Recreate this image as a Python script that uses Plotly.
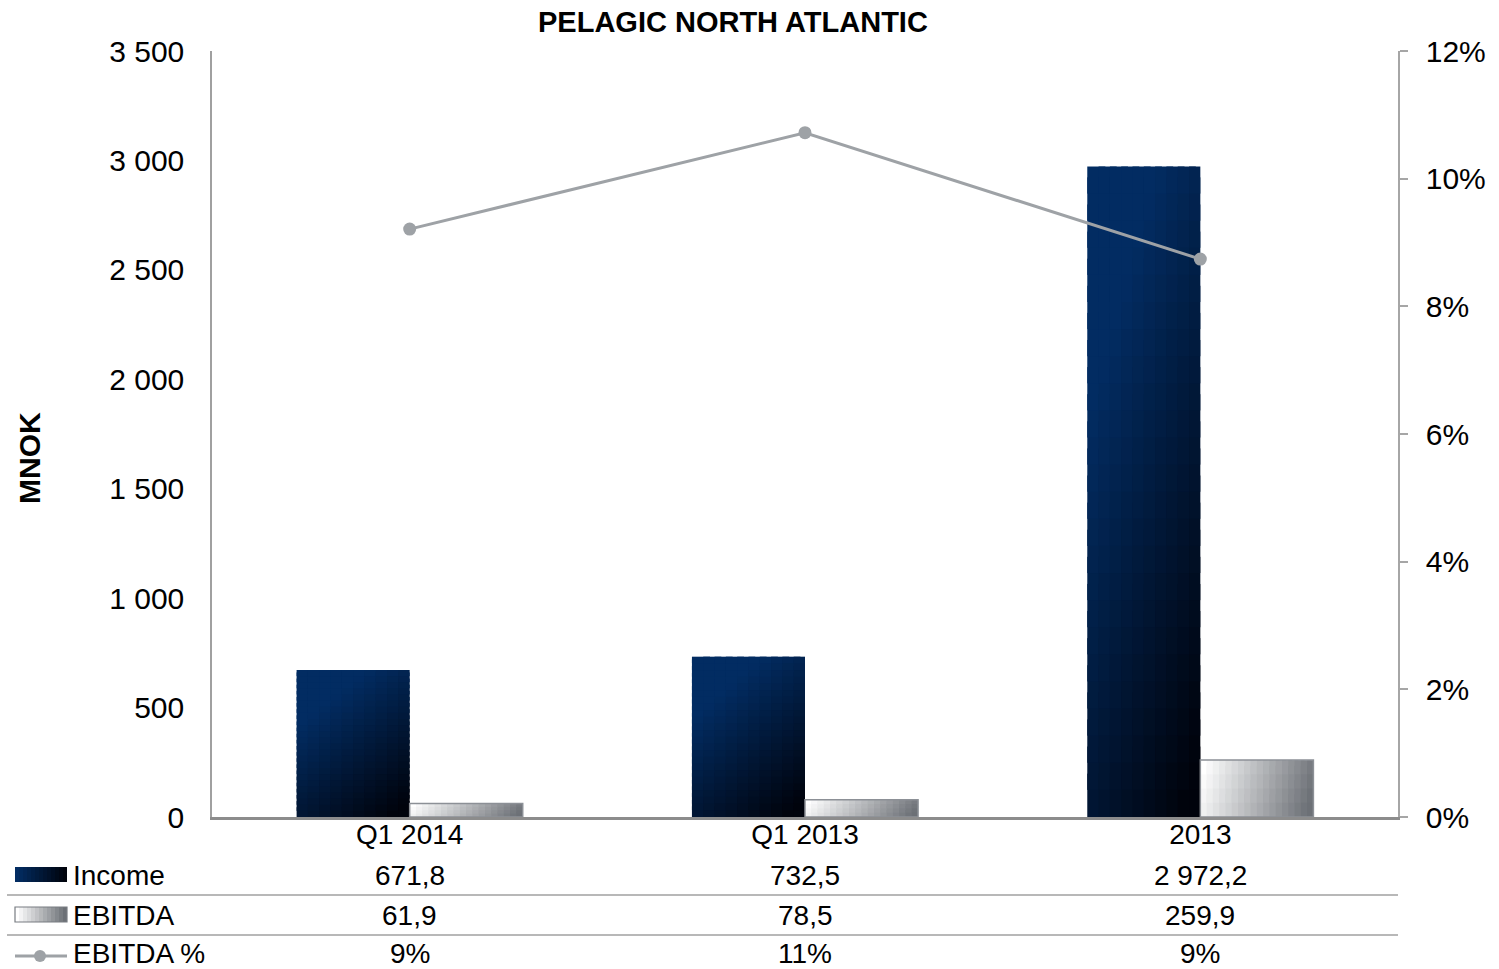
import plotly.graph_objects as go

# ---- data ----
categories = ["Q1 2014", "Q1 2013", "2013"]
income = [671.8, 732.5, 2972.2]
ebitda = [61.9, 78.5, 259.9]
ebitda_pct = [9.21, 10.72, 8.74]          # EBITDA margin in percent

left_tickvals = [0, 500, 1000, 1500, 2000, 2500, 3000, 3500]
left_ticktext = ["0", "500", "1 000", "1 500", "2 000", "2 500", "3 000", "3 500"]

FONT = "Liberation Sans, Arial, sans-serif"
NAVY = (2, 44, 98)
DARK = (0, 3, 12)
WHITE = (255, 255, 255)
GREY = (108, 112, 118)

# plot area in pixels
W_PX, H_PX = 1499, 969
L, R, T, B = 212, 101, 51, 152
PLOT_W = W_PX - L - R
PLOT_H = H_PX - T - B

BAR_W = 0.286          # width of one bar in category units


def lerp(c1, c2, t):
    t = max(0.0, min(1.0, t))
    return "rgb(%d,%d,%d)" % tuple(round(a + (b - a) * t) for a, b in zip(c1, c2))


def fmt_num(v):
    s = f"{v:,.1f}"
    return s.replace(",", " ").replace(".", ",")


def py(pix):
    """pixel row -> paper y"""
    return (H_PX - B - pix) / PLOT_H


def px(pix):
    """pixel column -> paper x"""
    return (pix - L) / PLOT_W


def shaded_bars(fig, values, x_start, ncols, nrows, color_at):
    """Draw bars as a grid of overlapping tiles so they can carry a colour ramp.
    Each tile slightly overlaps the next one, which is drawn later and covers it."""
    step_w = BAR_W / ncols
    for c in range(ncols):
        w = step_w * (1.0 if c == ncols - 1 else 1.6)
        for r in range(nrows):
            k = 1.0 if r == nrows - 1 else 1.6
            col = color_at(c / (ncols - 1), r / (nrows - 1))
            fig.add_trace(go.Bar(
                x=categories,
                y=[v / nrows * k for v in values],
                base=[v * r / nrows for v in values],
                offset=x_start + c * step_w,
                width=w,
                marker=dict(color=col, line=dict(width=0)),
                showlegend=False, hoverinfo="skip",
            ))


fig = go.Figure()


# Income bars: navy at the top-left fading to near black at the bottom-right
def income_color(u, v):
    t = u * 0.5 + (1 - v) * 0.85 - 0.3
    return lerp(NAVY, DARK, t)


shaded_bars(fig, income, -BAR_W, 10, 24, income_color)


# EBITDA bars: white on the left fading to grey on the right
def ebitda_color(u, v):
    return lerp(WHITE, GREY, u * 0.92 + (1 - v) * 0.1)


shaded_bars(fig, ebitda, 0.0, 18, 4, ebitda_color)
fig.add_trace(go.Bar(
    x=categories, y=ebitda, offset=0, width=BAR_W,
    marker=dict(color="rgba(0,0,0,0)", line=dict(color="rgb(140,144,150)", width=1.5)),
    showlegend=False, hoverinfo="skip",
))

# EBITDA % line on the secondary axis
fig.add_trace(go.Scatter(
    x=categories, y=[p / 100 for p in ebitda_pct], yaxis="y2",
    mode="lines+markers",
    line=dict(color="rgb(158,162,166)", width=3),
    marker=dict(color="rgb(158,162,166)", size=13),
    showlegend=False, hoverinfo="skip",
))

annotations = []
shapes = []

# title and axis title
annotations.append(dict(text="<b>PELAGIC NORTH ATLANTIC</b>", xref="paper", yref="paper",
                        x=px(733), y=py(22), xanchor="center", yanchor="middle",
                        showarrow=False, font=dict(family=FONT, size=29, color="black")))
annotations.append(dict(text="<b>MNOK</b>", xref="paper", yref="paper",
                        x=px(30), y=py(458), xanchor="center", yanchor="middle",
                        textangle=-90, showarrow=False,
                        font=dict(family=FONT, size=30, color="black")))

# data table below the chart
rows = [
    ("Income", [fmt_num(v) for v in income], 875),
    ("EBITDA", [fmt_num(v) for v in ebitda], 915),
    ("EBITDA %", [f"{p:.0f}%" for p in ebitda_pct], 953),
]
for name, vals, ypix in rows:
    annotations.append(dict(text=name, xref="paper", yref="paper", x=px(71), y=py(ypix),
                            xanchor="left", yanchor="middle", showarrow=False,
                            font=dict(family=FONT, size=28, color="black")))
    for i, txt in enumerate(vals):
        annotations.append(dict(text=txt, xref="x", yref="paper", x=i, y=py(ypix),
                                xanchor="center", yanchor="middle", showarrow=False,
                                font=dict(family=FONT, size=28, color="black")))

for ypix in (895, 935):
    shapes.append(dict(type="line", xref="paper", yref="paper",
                       x0=px(7), x1=1.0, y0=py(ypix), y1=py(ypix),
                       line=dict(color="rgb(160,160,160)", width=1.5)))

# legend keys in the table
KX0, KX1 = 15, 67
n_key = 13
for i in range(n_key):
    xa = KX0 + (KX1 - KX0) * i / n_key
    xb = KX0 + (KX1 - KX0) * (i + 1) / n_key + (0.8 if i < n_key - 1 else 0)
    t = i / (n_key - 1)
    shapes.append(dict(type="rect", xref="paper", yref="paper",
                       x0=px(xa), x1=px(xb), y0=py(882), y1=py(867),
                       fillcolor=lerp(NAVY, DARK, t), line=dict(width=0)))
    shapes.append(dict(type="rect", xref="paper", yref="paper",
                       x0=px(xa), x1=px(xb), y0=py(922), y1=py(907),
                       fillcolor=lerp(WHITE, GREY, t), line=dict(width=0)))
shapes.append(dict(type="rect", xref="paper", yref="paper",
                   x0=px(KX0), x1=px(KX1), y0=py(922), y1=py(907),
                   fillcolor="rgba(0,0,0,0)", line=dict(color="rgb(120,124,130)", width=1.2)))
shapes.append(dict(type="line", xref="paper", yref="paper",
                   x0=px(KX0), x1=px(KX1), y0=py(956), y1=py(956),
                   line=dict(color="rgb(158,162,166)", width=3)))
shapes.append(dict(type="circle", xref="paper", yref="paper",
                   x0=px(34), x1=px(46), y0=py(962), y1=py(950),
                   fillcolor="rgb(158,162,166)", line=dict(width=0)))

fig.update_layout(
    width=W_PX, height=H_PX,
    margin=dict(l=L, r=R, t=T, b=B, autoexpand=False),
    paper_bgcolor="white", plot_bgcolor="white",
    barmode="overlay",
    font=dict(family=FONT, size=28, color="black"),
    xaxis=dict(type="category", range=[-0.5, 2.5], showgrid=False, zeroline=False,
               showline=True, linecolor="rgb(140,140,140)", linewidth=2.5,
               ticks="", tickfont=dict(size=28), ticklabelstandoff=-9),
    yaxis=dict(range=[0, 3500], tickvals=left_tickvals, ticktext=left_ticktext,
               showgrid=False, zeroline=False, showline=True,
               linecolor="rgb(160,160,160)", linewidth=1.5, ticks="",
               tickfont=dict(size=30), ticklabelstandoff=20, automargin=False),
    yaxis2=dict(range=[0, 0.12], dtick=0.02, tickformat=".0%", overlaying="y", side="right",
                showgrid=False, zeroline=False, showline=True,
                linecolor="rgb(166,166,166)", linewidth=1.5, ticks="outside",
                ticklen=8, tickcolor="rgb(166,166,166)", tickwidth=1.5,
                tickfont=dict(size=30), ticklabelstandoff=12, automargin=False),
    annotations=annotations,
    shapes=shapes,
)

fig.write_html("out.html")
